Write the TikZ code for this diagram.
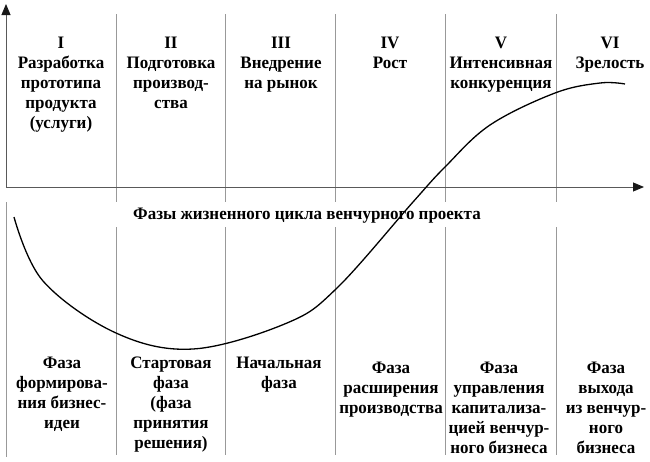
\documentclass[tikz,border=0pt]{standalone}
\usepackage{fontspec}
\setmainfont{Liberation Serif}[FakeStretch=0.97]
\usetikzlibrary{arrows.meta}
\begin{document}
\begin{tikzpicture}[x=1pt,y=-1pt,
  lbl/.style={font=\bfseries\fontsize{17.5}{20}\selectfont, align=center, inner sep=0pt, anchor=base},
  gridline/.style={draw=black!40, line width=0.8pt},
  axisline/.style={draw=black!65, line width=0.9pt, -{Triangle[length=11pt,width=9pt,color=black!90]}},
  lifecurve/.style={line width=1.3pt, black}]
\useasboundingbox (0,0) rectangle (650,461);
% grid
\foreach \x in {116,225,335,445,556}{
  \draw[gridline] (\x,14) -- (\x,202);
  \draw[gridline] (\x,227) -- (\x,455);
}
\draw[gridline] (6,202) -- (6,457);
% axes
\coordinate (O) at (6,187);
\coordinate (ytip) at (6,4);
\coordinate (xtip) at (644,187);
\draw[axisline] (O) -- (ytip);
\draw[axisline] (O) -- (xtip);
% curve
\draw[lifecurve] plot[smooth, tension=0.6] coordinates {(14,217) (43,281) (116,333) (193,349) (287,323) (337,288) (413,202) (445,167) (490,125) (555,93) (600,83) (625,84)};
% top labels (anchored at the baseline of the last line)
\node[lbl] (t1) at (61,128) {I\\Разработка\\прототипа\\продукта\\(услуги)};
\node[lbl] (t2) at (171,108) {II\\Подготовка\\производ-\\ства};
\node[lbl] (t3) at (281,88) {III\\Внедрение\\на рынок};
\node[lbl] (t4) at (390,68) {IV\\Рост};
\node[lbl] (t5) at (501,88) {V\\Интенсивная\\конкуренция};
\node[lbl] (t6) at (610,68) {VI\\Зрелость};
% title
\node[lbl] (ttl) at (307,219) {Фазы жизненного цикла венчурного проекта};
% bottom labels
\node[lbl] (b1) at (62,428) {Фаза\\формирова-\\ния бизнес-\\идеи};
\node[lbl] (b2) at (171,448) {Стартовая\\фаза\\(фаза\\принятия\\решения)};
\node[lbl] (b3) at (279,388) {Начальная\\фаза};
\node[lbl] (b4) at (391,413) {Фаза\\расширения\\производства};
\node[lbl] (b5) at (499,453) {Фаза\\управления\\капитализа-\\цией венчур-\\ного бизнеса};
\node[lbl] (b6) at (606,453) {Фаза\\выхода\\из венчур-\\ного\\бизнеса};
\end{tikzpicture}
\end{document}
